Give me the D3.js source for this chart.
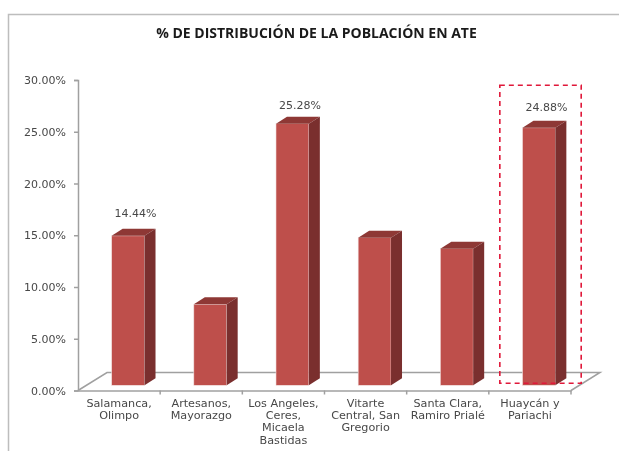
<!DOCTYPE html>
<html>
	<head>
		<meta charset="utf-8">
		<style>
			html, body { margin: 0; padding: 0; background: #fff; overflow: hidden; }
			text { font-family: "DejaVu Sans", sans-serif; fill: #484848; }
			.axis path, .axis line { stroke: #a0a0a0; stroke-width: 1.5; }
		</style>
	</head>
	<body>
		<script src="https://cdn.jsdelivr.net/npm/d3@7"></script>
		<div id="canvas"></div>
		<script>
			var title = "% DE DISTRIBUCIÓN DE LA POBLACIÓN EN ATE";
			var categories = ["Salamanca, Olimpo", "Artesanos, Mayorazgo", "Los Angeles, Ceres, Micaela Bastidas", "Vitarte Central, San Gregorio", "Santa Clara, Ramiro Prialé", "Huaycán y Pariachi"];
			var category_lines = [["Salamanca,", "Olimpo"], ["Artesanos,", "Mayorazgo"], ["Los Angeles,", "Ceres,", "Micaela", "Bastidas"], ["Vitarte", "Central, San", "Gregorio"], ["Santa Clara,", "Ramiro Prialé"], ["Huaycán y", "Pariachi"]];
			var values = [14.44, 7.83, 25.28, 14.26, 13.2, 24.88];
			var shown_labels = ["14.44%", null, "25.28%", null, null, "24.88%"];
			var y_ticks = [0, 5, 10, 15, 20, 25, 30];
			var highlighted = "Huaycán y Pariachi";

			var width = 619;
			var height = 451;
			var depth_x = 11, depth_y = 7;
			var floor_x = 29, floor_y = 18;

			var svg = d3.select("#canvas").append("svg")
				.attr("width", width)
				.attr("height", height)
				.style("display", "block")
				.style("filter", "blur(0.35px)");

			var x = d3.scaleBand().domain(categories).range([78, 571]);
			var y = d3.scaleLinear().domain([0, 30]).range([390.5, 80]);
			// the bars stand on the floor, a little up and right of the axis
			var x_bar = d3.scaleBand().domain(categories).range([87, 580]).paddingInner(0.6).paddingOuter(0.3);
			var y_bar = d3.scaleLinear().domain([0, 30]).range([385.3, 74.8]);

			// frame
			svg.append("path")
				.attr("d", "M8.5,451V14.5H619")
				.attr("fill", "none")
				.attr("stroke", "#bdbdbd")
				.attr("stroke-width", 1.5);

			svg.append("text")
				.attr("x", 316.5)
				.attr("y", 38)
				.attr("text-anchor", "middle")
				.style("font-family", "'Open Sans', sans-serif")
				.style("font-weight", 700)
				.style("font-size", "14px")
				.style("fill", "#1a1a1a")
				.text(title);

			// floor
			svg.append("path")
				.attr("d", d3.line()([
					[x.range()[0], y(0)],
					[x.range()[0] + floor_x, y(0) - floor_y],
					[x.range()[1] + floor_x, y(0) - floor_y],
					[x.range()[1], y(0)]
				]))
				.attr("fill", "none")
				.attr("stroke", "#a0a0a0")
				.attr("stroke-width", 1.5);

			var y_axis = svg.append("g")
				.attr("class", "axis")
				.attr("transform", "translate(78,0)")
				.call(d3.axisLeft(y)
					.tickValues(y_ticks)
					.tickSize(4)
					.tickPadding(8)
					.tickFormat(function (d) { return d3.format(".2f")(d) + "%"; }));
			y_axis.selectAll("text").style("font-size", "11px");

			var x_axis = svg.append("g")
				.attr("class", "axis")
				.attr("transform", "translate(0," + y(0) + ")")
				.call(d3.axisBottom(x).tickSize(0).tickFormat(""));

			x_axis.selectAll(".edge")
				.data(categories)
				.enter()
				.append("line")
				.attr("class", "edge")
				.attr("x1", function (d) { return x(d) + x.bandwidth(); })
				.attr("x2", function (d) { return x(d) + x.bandwidth(); })
				.attr("y1", 0)
				.attr("y2", 4);

			var bars = svg.selectAll(".bar")
				.data(values)
				.enter()
				.append("g")
				.attr("class", "bar");

			function bar_left (d, i) { return x_bar(categories[i]); }
			function bar_right (d, i) { return x_bar(categories[i]) + x_bar.bandwidth(); }

			bars.append("rect")
				.attr("x", bar_left)
				.attr("y", function (d) { return y_bar(d); })
				.attr("width", x_bar.bandwidth())
				.attr("height", function (d) { return y_bar(0) - y_bar(d); })
				.attr("fill", "#be4f4b")
				.attr("stroke", "#f3e3e2")
				.attr("stroke-width", 0.6);

			// top face
			bars.append("path")
				.attr("d", function (d, i) {
					return d3.line()([
						[bar_left(d, i), y_bar(d)],
						[bar_left(d, i) + depth_x, y_bar(d) - depth_y],
						[bar_right(d, i) + depth_x, y_bar(d) - depth_y],
						[bar_right(d, i), y_bar(d)]
					]) + "Z";
				})
				.attr("fill", "#8e3835");

			// side face
			bars.append("path")
				.attr("d", function (d, i) {
					return d3.line()([
						[bar_right(d, i), y_bar(d)],
						[bar_right(d, i) + depth_x, y_bar(d) - depth_y],
						[bar_right(d, i) + depth_x, y_bar(0) - depth_y],
						[bar_right(d, i), y_bar(0)]
					]) + "Z";
				})
				.attr("fill", "#7a2f2e");

			// labels do not sit at one distance from the bars in the original
			var label_gap = [12, 0, 8, 0, 0, 10];
			bars.append("text")
				.attr("x", function (d, i) { return bar_left(d, i) + x_bar.bandwidth() / 2 + depth_x / 2 + 2; })
				.attr("y", function (d, i) { return y_bar(d) - depth_y - label_gap[i]; })
				.attr("text-anchor", "middle")
				.style("font-size", "11px")
				.text(function (d, i) { return shown_labels[i]; });

			var cat_labels = svg.selectAll(".cat_label")
				.data(categories)
				.enter()
				.append("text")
				.attr("class", "cat_label")
				.attr("text-anchor", "middle")
				.style("font-size", "11.2px");

			cat_labels.selectAll("tspan")
				.data(function (d, i) { return category_lines[i].map(function (l) { return { line: l, cat: d }; }); })
				.enter()
				.append("tspan")
				.attr("x", function (d) { return x(d.cat) + x.bandwidth() / 2; })
				.attr("y", function (d, i) { return y(0) + 16.5 + i * 12.2; })
				.text(function (d) { return d.line; });

			// dashed box round the highlighted bar
			svg.append("rect")
				.attr("x", x(highlighted) + 11)
				.attr("y", y(29.5))
				.attr("width", x.bandwidth() - 0.8)
				.attr("height", y(0.7) - y(29.5))
				.attr("fill", "none")
				.attr("stroke", "#e0183a")
				.attr("stroke-width", 1.6)
				.attr("stroke-dasharray", "5,4");
		</script>
	</body>
</html>
